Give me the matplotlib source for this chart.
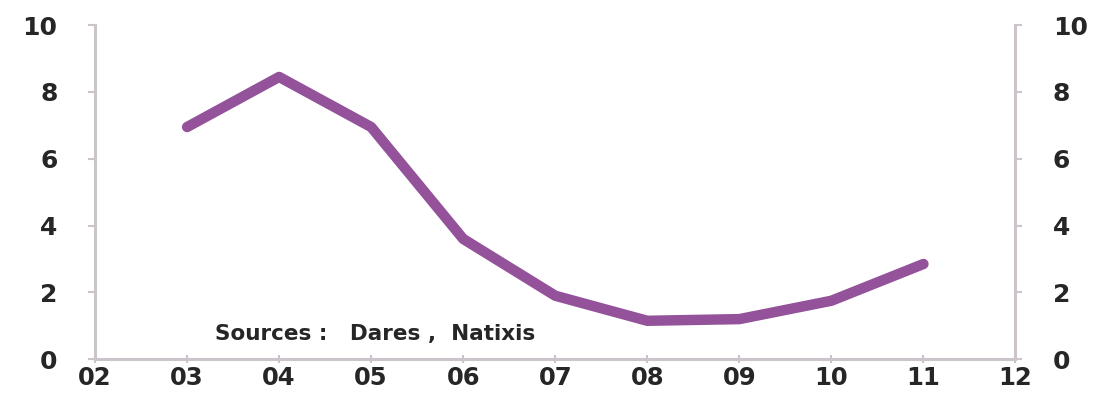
import numpy as np
import matplotlib.pyplot as plt

# annual values, 2003-2011
years = [3, 4, 5, 6, 7, 8, 9, 10, 11]
values = [6.95, 8.45, 6.95, 3.6, 1.9, 1.15, 1.2, 1.75, 2.85]
x_ticks = list(range(2, 13))
x_labels = [f"{y:02d}" for y in x_ticks]
y_ticks = [0, 2, 4, 6, 8, 10]

plt.rcParams['font.family'] = ['DejaVu Sans']
spine_col = '#cbc5cb'
txt_col = '#262626'

fig = plt.figure(figsize=(11.05, 3.93), dpi=100)
ax = fig.add_axes([0.086, 0.086, 0.833, 0.85])

ax.plot(years, values, color='#93529a', linewidth=7.5, solid_capstyle='round',
        solid_joinstyle='round')

ax.set_xlim(2, 12)
ax.set_ylim(0, 10)
ax.set_xticks(x_ticks)
ax.set_xticklabels(x_labels)
ax.set_yticks(y_ticks)

ax.spines['top'].set_visible(False)
for side in ['left', 'right', 'bottom']:
    ax.spines[side].set_color(spine_col)
    ax.spines[side].set_linewidth(2.2)

ax.tick_params(axis='y', which='both', direction='out', length=5, width=1.5,
               color=spine_col, labelsize=18, labelcolor=txt_col, pad=22,
               left=True, right=True, labelleft=True, labelright=True)
ax.tick_params(axis='x', direction='inout', length=6, width=1.5, color=spine_col,
               labelsize=17.5, labelcolor=txt_col, pad=2)
for lab in ax.get_xticklabels() + ax.get_yticklabels():
    lab.set_fontweight('bold')

ax.text(0.13, 0.075, 'Sources :   Dares ,  Natixis', transform=ax.transAxes,
        fontsize=15.5, fontweight='bold', color=txt_col, va='center', ha='left')

fig.savefig('out.png', dpi=100)
